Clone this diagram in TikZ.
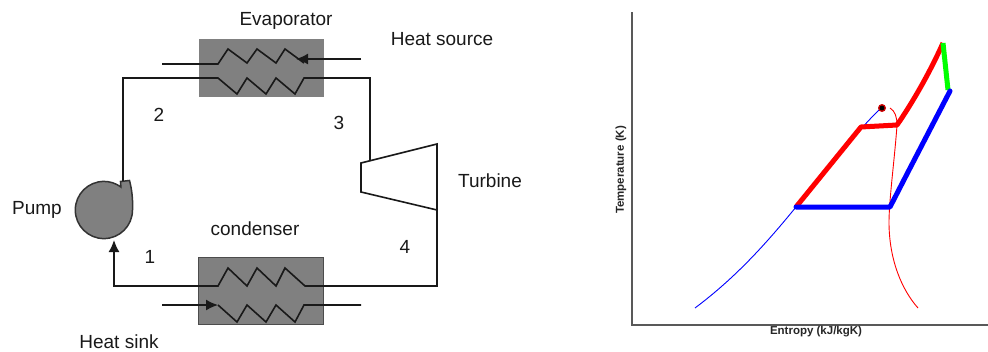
\documentclass[tikz,border=0pt]{standalone}
\usepackage{fontspec}
\setmainfont{Liberation Sans}
\usetikzlibrary{arrows.meta}
\tikzset{
  pipe/.style={line width=1.6pt,draw=black!90,line join=miter},
  flow/.style={pipe,-{Latex[length=12pt,width=11pt]}},
  hxbox/.style={fill=black!50,minimum width=125pt,inner sep=0pt},
  lbl/.style={font=\fontsize{19}{22}\selectfont,text=black!90},
  axlbl/.style={font=\fontsize{11.5}{13}\selectfont\bfseries,text=black!85},
  cycle/.style={line width=5pt,line join=round},
  satline/.style={line width=0.9pt},
}
\begin{document}
\begin{tikzpicture}[x=1pt,y=-1pt]
  \useasboundingbox (0,0) rectangle (988,351);

  \node[hxbox,minimum height=58pt] (evap) at (261.5,68) {};
  \node[hxbox,minimum height=67pt,draw=black!70,line width=1pt] (cond) at (261,290.5) {};

  \coordinate (corner2) at (123,78);
  \coordinate (corner3) at (370,78);
  \coordinate (corner4) at (437,286);
  \coordinate (corner1) at (114,286);
  \coordinate (pumpout) at (123,181);
  \coordinate (pumpin) at (114,240);
  \coordinate (turbin) at (370,161);
  \coordinate (turbout) at (437,210);
  \coordinate (srcstart) at (361,59);
  \coordinate (srctip) at (296,59);
  \coordinate (sinkstart) at (162,305);
  \coordinate (sinktip) at (218,305);

  % pump
  \draw[line width=1.5pt,draw=black!80,fill=black!50] (132.5,210)
    arc[start angle=0,end angle=-306.5,radius=28.6pt]
    -- (120.5,181.5) -- (129.5,180.5) .. controls (132,190) and (133,200) .. (132.5,210) -- cycle;

  % turbine
  \draw[pipe] (361,163) -- (437,144) -- (turbout) -- (361,192) -- cycle;

  % working fluid
  \draw[pipe] (pumpout) -- (corner2) -- (218,78) -- (237,94) -- (247,78) -- (266,94) -- (276,78)
    -- (295,94) -- (304,78) -- (corner3) -- (turbin);
  \draw[pipe] (turbout) -- (corner4) -- (305,286) -- (285,268) -- (276,286) -- (257,268) -- (247,286)
    -- (228,268) -- (218,286) -- (corner1) -- (114,250);
  \draw[flow] (114,254) -- (pumpin);

  % source and sink
  \draw[pipe] (162,64) -- (218,64) -- (228,49) -- (247,63) -- (257,49) -- (276,63) -- (285,49) -- (304,63);
  \draw[flow] (srcstart) -- (srctip);
  \draw[flow] (sinkstart) -- (sinktip);
  \draw[pipe] (sinktip) -- (237,322) -- (247,305) -- (266,322) -- (276,305) -- (295,322) -- (304,305) -- (361,305);

  \node[lbl] (evaplbl) at (286,21) {Evaporator};
  \node[lbl] (srclbl) at (442,39) {Heat source};
  \node[lbl] (lbl2) at (159,115) {2};
  \node[lbl] (lbl3) at (339,123) {3};
  \node[lbl] (pumplbl) at (37,210) {Pump};
  \node[lbl] (turblbl) at (490,181) {Turbine};
  \node[lbl] (condlbl) at (255,229) {condenser};
  \node[lbl] (lbl1) at (150,257) {1};
  \node[lbl] (lbl4) at (405,247) {4};
  \node[lbl] (sinklbl) at (119,342) {Heat sink};

  % T-s plot
  \coordinate (axtop) at (632,12);
  \coordinate (axorg) at (632,325);
  \coordinate (axend) at (988,325);
  \draw[line width=1.5pt,draw=black!65] (axtop) -- (axorg) -- (axend);
  \node[axlbl] (xlbl) at (816,332) {Entropy (kJ/kgK)};
  \node[axlbl,rotate=90] (ylbl) at (621,170) {Temperature (K)};

  \draw[satline,blue] (695,308) .. controls (735,278) and (765,245) .. (796,207)
    .. controls (830,165) and (860,128) .. (881,108);
  \draw[satline,red] (890,108) .. controls (895,111) and (897,117) .. (897,125)
    .. controls (895,155) and (889,200) .. (889,222) .. controls (889,260) and (902,290) .. (918,308);

  \draw[cycle,red] (796,207) -- (861,127) -- (897,125) .. controls (913,102) and (930,72) .. (943,43);
  \draw[cycle,green] (943,43) -- (948,90);
  \draw[cycle,blue,line cap=round] (950,91) -- (908,172) -- (890,207) -- (796,207);
  \fill[red!80!black] (882,108) circle[radius=4pt];
  \fill[black] (882,108) circle[radius=2.4pt];
\end{tikzpicture}
\end{document}
